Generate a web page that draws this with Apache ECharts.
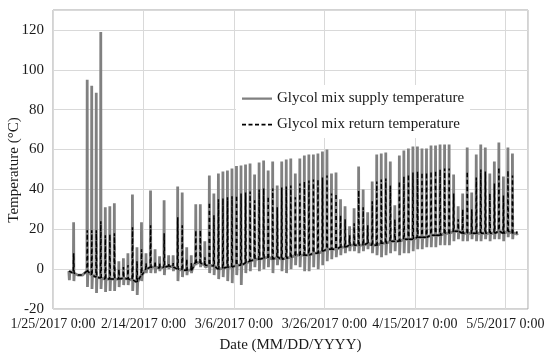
<!DOCTYPE html>
<html><head><meta charset="utf-8">
<script src="https://cdn.jsdelivr.net/npm/echarts@6/dist/echarts.min.js"></script>
<style>html,body{margin:0;padding:0;background:#fff}#c{width:550px;height:358px}</style>
</head><body><div id="c"></div>
<script>
// days after 1/25/2017 0:00 of the first daily cycle (1/28/2017)
const firstDay = 3;
// daily values, one entry per day from 1/28/2017 to 5/7/2017
const supplyPeak = [0,23.5,-3,-2.5,95,92,88.5,119,31,31.5,33,4,5.5,8,37.5,11,23.5,8,39.5,10,6.5,34.5,7,7,41.5,38.5,11,7,32.5,32.5,14,47,38,48,49,49.5,50.5,51.7,52,52.5,53,47.5,53.5,54.5,49.5,54,42,54,55,55.5,48,55.5,57,57.5,57.5,58,59,60,48,48.5,35,31.5,21.5,30.5,51.5,40,28.5,44,57.5,58,58.5,54,32,57,59.5,60.5,61.5,61.5,60.5,60.5,62,62,62.5,62.5,62.5,47.5,31.5,38,61,38.5,57.5,62.5,61,48,54,63.5,46.5,61,58,19];
const supplyLow = [-5.5,-6,-3,-3,-9,-10,-12,-10,-11.5,-11,-11,-9,-8,-8,-11,-13,-6,-2,-2,-2,-1,-3,0,-1,-6,-4,-3,-2,2,1,1,-2,-3,-5,-4,-6,-7,-3,-8,-2,-1,1,-1,0,1,-2,2,-1,-2,0,2,1,-1,-1,1,0,2,4,5,6,7,8,9,9,8,9,10,8,7,6,7,8,9,7,8,8,9,10,10,11,11,11,12,12,12,14,15,14,14,15,14,14,15,14,15,15,14,16,15,17];
const returnPeak = [-1,8,-3,-2,19.5,19.5,19.5,24,17,17.5,18,0,1,2,21,4,10,3,22,4,3,18,3,3,26,22,5,3,19.5,19.5,6,33.5,27,35,35.5,36,36.5,37,38,38.5,39,34.5,40,40.5,36.5,40.5,31,41,41.5,42,36,43,44,44.5,45,45,46,47,38,38,27,25,17,23,39.5,31,22,34,44,45,45.5,42,25,44,46.5,47.5,48.5,49,48.5,48.5,49,49.5,50,50.5,50.5,38,25,30,49,30,46,50,49,38,43,51,37,49.5,47,19];
const baseline = [-1,-2,-3,-3,-1,-3,-4,-4.5,-5,-5,-5,-5,-4.5,-5,-5.5,-6.5,-3,0,1,1,0.5,1,1.5,1,0,-0.5,-0.5,-0.5,3.5,3,2,2,1.5,0,0.5,1,1,2,2,3,4,5,5,5.5,6,5,6,5,5.5,6,7,7,7,7,8,8,9,10,10,10,11,11,12,12,12,12,13,12,12,13,13,14,14,14,15,15,15,16,16,16,17,17,17,18,18,19,19,18,18,18,18,18,18,18,18,19,18,19,18,18];
const xTickLabels = ['1/25/2017 0:00','2/14/2017 0:00','3/6/2017 0:00','3/26/2017 0:00','4/15/2017 0:00','5/5/2017 0:00'];
const seriesNames = ['Glycol mix supply temperature','Glycol mix return temperature'];

const supplyData = [], returnData = [];
for (let i = 0; i < supplyPeak.length; i++) {
  const d = firstDay + i;
  supplyData.push([d + 0.50, baseline[i]], [d + 0.56, supplyPeak[i]], [d + 0.62, supplyLow[i]], [d + 0.72, baseline[i]]);
  returnData.push([d + 0.50, baseline[i]], [d + 0.57, returnPeak[i]], [d + 0.66, baseline[i]]);
}

// legend samples: a solid bar and a dashed bar inside a 30x14 box
const solidIcon = 'path://M0,0h0.05v0.05h-0.05z M0,6h30v2.2h-30z M29.95,13.95h0.05v0.05h-0.05z';
const dashedIcon = 'path://M0,0h0.05v0.05h-0.05z M0,6.3h4v1.6h-4z M6.5,6.3h4v1.6h-4z M13,6.3h4v1.6h-4z M19.5,6.3h4v1.6h-4z M26,6.3h4v1.6h-4z M29.95,13.95h0.05v0.05h-0.05z';

const font = 'Liberation Serif, Times New Roman, serif';
const chart = echarts.init(document.getElementById('c'));
chart.setOption({
  animation: false,
  backgroundColor: '#fff',
  grid: {left: 53, right: 22, top: 10, bottom: 48, show: true, borderColor: '#a6a6a6', borderWidth: 1, containLabel: false},
  legend: {
    orient: 'vertical', left: 236, top: 85, padding: [6, 6, 6, 6], backgroundColor: '#fff',
    itemWidth: 30, itemHeight: 14, itemGap: 11,
    data: [{name: seriesNames[0], icon: solidIcon}, {name: seriesNames[1], icon: dashedIcon}],
    textStyle: {fontFamily: font, fontSize: 15, color: '#1a1a1a'}
  },
  xAxis: {
    type: 'value', min: 0, max: 105, interval: 20,
    name: 'Date (MM/DD/YYYY)', nameLocation: 'middle', nameGap: 29,
    nameTextStyle: {fontFamily: font, fontSize: 15, color: '#1a1a1a'},
    axisLine: {show: false}, axisTick: {show: false},
    splitLine: {show: true, lineStyle: {color: '#d9d9d9', width: 1}},
    axisLabel: {
      showMinLabel: true, showMaxLabel: false, hideOverlap: false, interval: 0,
      margin: 8, fontFamily: font, fontSize: 14, color: '#1a1a1a',
      formatter: v => (v % 20 === 0 && v / 20 < xTickLabels.length) ? xTickLabels[v / 20] : ''
    }
  },
  yAxis: {
    type: 'value', min: -20, max: 130, interval: 20,
    axisLine: {show: false}, axisTick: {show: false},
    splitLine: {show: true, lineStyle: {color: '#d9d9d9', width: 1}},
    axisLabel: {showMaxLabel: false, margin: 9, fontFamily: font, fontSize: 15, color: '#1a1a1a',
      formatter: v => (v <= 120 ? String(v) : '')}
  },
  graphic: [{
    type: 'text', x: 14, y: 170, rotation: Math.PI / 2,
    style: {text: 'Temperature (°C)', font: '15px ' + font, fill: '#1a1a1a', align: 'center', verticalAlign: 'middle', textAlign: 'center', textVerticalAlign: 'middle'}
  }],
  series: [
    {name: seriesNames[0], type: 'line', data: supplyData, symbol: 'none', z: 2,
      lineStyle: {color: '#808080', width: 2.8}, itemStyle: {color: '#808080'}},
    {name: seriesNames[1], type: 'line', data: returnData, symbol: 'none', z: 3,
      lineStyle: {color: '#000', width: 1.5, type: [4, 3]}, itemStyle: {color: '#000'}}
  ]
});
</script></body></html>
